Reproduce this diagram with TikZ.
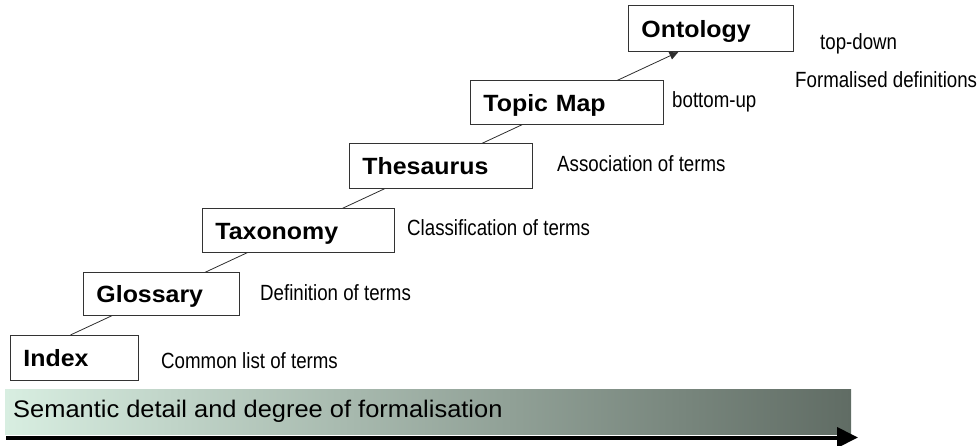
\documentclass[tikz,border=0pt]{standalone}
\usepackage{fontspec}
\usetikzlibrary{arrows.meta,backgrounds}
\setmainfont{Liberation Sans}
\newfontfamily\boxfont[FakeStretch=1.06]{Liberation Sans}
\newfontfamily\notefont[FakeStretch=0.85]{Liberation Sans}
\newfontfamily\barfont[FakeStretch=1.06]{Liberation Sans}
\definecolor{barLight}{RGB}{216,238,225}
\definecolor{barDark}{RGB}{96,108,100}
\definecolor{linkGrey}{RGB}{45,45,45}

\begin{document}
\begin{tikzpicture}[x=1pt,y=-1pt,
  stepbox/.style={draw=black!80, line width=0.9pt, fill=white, anchor=north west,
    inner xsep=13pt, inner ysep=0pt, align=left, text height=20pt, text depth=2pt,
    font=\boxfont\bfseries\fontsize{23.5}{27}\selectfont},
  note/.style={anchor=base west, inner sep=0pt,
    font=\notefont\fontsize{22}{26}\selectfont},
  link/.style={draw=linkGrey, line width=0.8pt, -{Triangle[length=9pt,width=8pt]}},
]
\useasboundingbox (0,0) rectangle (978,445);

% graded scale bar with its axis arrow
\shade[left color=barLight, right color=barDark] (5,389) rectangle (851,434);
\node[anchor=base west, inner sep=0pt, font=\barfont\fontsize{24}{28}\selectfont]
  (scale) at (13,417) {Semantic detail and degree of formalisation};
\coordinate (axisStart) at (6,437.5);
\coordinate (axisEnd) at (858,437.5);
\draw[line width=4pt, -{Triangle[length=21pt,width=20pt]}] (axisStart) -- (axisEnd);

% the staircase of knowledge organisation systems
\node[stepbox, minimum height=45pt, text width=102pt] (idx) at (10,335) {Index};
\node[stepbox, minimum height=43pt, text width=130pt] (glo) at (83,272) {Glossary};
\node[stepbox, minimum height=44pt, text width=166pt] (tax) at (202,208) {Taxonomy};
\node[stepbox, minimum height=45pt, text width=157pt] (the) at (349,143) {Thesaurus};
\node[stepbox, minimum height=44pt, text width=167pt] (top) at (470,80) {Topic Map};
\node[stepbox, minimum height=46pt, text width=139pt] (ont) at (628,5) {Ontology};

% one rising line running behind all steps
\begin{pgfonlayer}{background}
  \draw[link] ([xshift=-4pt]idx.north) -- ([xshift=-32.5pt]ont.south);
\end{pgfonlayer}

% descriptions beside the steps
\node[note] (dIdx) at (161,368) {Common list of terms};
\node[note] (dGlo) at (260,300) {Definition of terms};
\node[note] (dTax) at (407,235.5) {Classification of terms};
\node[note] (dThe) at (557,171.5) {Association of terms};
\node[note] (dTop) at (672,107.5) {bottom-up};
\node[note] (dOnt) at (820,49) {top-down};
\node[note] (dFor) at (795,87) {Formalised definitions};
\end{tikzpicture}
\end{document}
